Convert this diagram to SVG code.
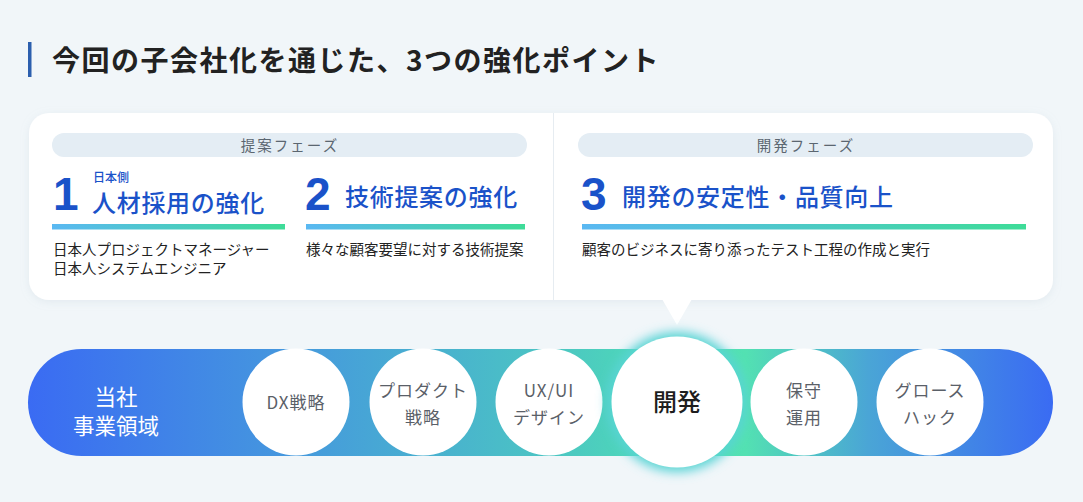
<svg xmlns="http://www.w3.org/2000/svg" width="1083" height="502" viewBox="0 0 1083 502">
<defs>
<linearGradient id="bar" x1="0" y1="0" x2="1" y2="0"><stop offset="0" stop-color="#5ab8f2"/><stop offset="1" stop-color="#3edc98"/></linearGradient>
<linearGradient id="band" gradientUnits="userSpaceOnUse" x1="28" y1="0" x2="1053" y2="0">
<stop offset="0" stop-color="#3a6bf3"/><stop offset="0.25" stop-color="#4597de"/><stop offset="0.5" stop-color="#4bc3c4"/><stop offset="0.6" stop-color="#4ed8b8"/><stop offset="0.7" stop-color="#53e1b2"/><stop offset="0.82" stop-color="#4aa5d6"/><stop offset="1" stop-color="#3a6bf3"/>
</linearGradient>
<radialGradient id="glowg"><stop offset="0.75" stop-color="#4fe0b8"/><stop offset="1" stop-color="#5ccfe0"/></radialGradient>
<filter id="blur" x="-30%" y="-30%" width="160%" height="160%"><feGaussianBlur stdDeviation="5.5"/></filter>
<filter id="shadow" x="-5%" y="-10%" width="110%" height="130%"><feDropShadow dx="0" dy="2" stdDeviation="4" flood-color="#9fb3c4" flood-opacity="0.18"/></filter>
</defs>
<style>
.jp{font-family:"Noto Sans CJK JP","Noto Sans CJK SC",sans-serif}
.num{font-family:"Liberation Sans",Arial,sans-serif;font-weight:700;font-size:46px;fill:#1a52c9}
.head{font-size:24px;font-weight:500;fill:#1a52c9;letter-spacing:0.7px}
.desc{font-size:14.5px;fill:#222}
.phase{font-size:14.5px;fill:#5b6670;letter-spacing:2px;text-anchor:middle}
.pill{fill:#e4edf4}
.c{fill:#fff}
.ct{font-size:17px;fill:#5a6068;text-anchor:middle;letter-spacing:1px}
</style>
<rect width="1083" height="502" fill="#f1f6f9"/>
<g id="title">
<rect x="28" y="42" width="3.5" height="35" fill="#2c5fae"/>
<text class="jp" x="52" y="71" font-size="28" font-weight="700" fill="#222" letter-spacing="1.5">今回の子会社化を通じた、3つの強化ポイント</text>
</g>
<g id="card">
<rect x="29" y="113" width="1024" height="187" rx="20" fill="#fff" filter="url(#shadow)"/>
<path d="M662 299 L692 299 L677 325 Z" fill="#fff"/>
<line x1="553.5" y1="113" x2="553.5" y2="300" stroke="#e6ecf1" stroke-width="1"/>
</g>
<g id="phase1">
<rect class="pill" x="52" y="133" width="475" height="24" rx="12"/>
<text class="jp phase" x="290" y="151">提案フェーズ</text>
</g>
<g id="phase2">
<rect class="pill" x="578" y="133" width="455" height="24" rx="12"/>
<text class="jp phase" x="806" y="151">開発フェーズ</text>
</g>
<g id="point1">
<text class="num" x="53" y="210">1</text>
<text class="jp" x="93" y="182" font-size="12" font-weight="500" fill="#1a52c9">日本側</text>
<text class="jp head" x="92" y="212">人材採用の強化</text>
<rect x="52" y="224" width="233" height="5.5" fill="url(#bar)"/>
<text class="jp desc" x="53" y="255">日本人プロジェクトマネージャー</text>
<text class="jp desc" x="53" y="274">日本人システムエンジニア</text>
</g>
<g id="point2">
<text class="num" x="305" y="210">2</text>
<text class="jp head" x="345" y="206">技術提案の強化</text>
<rect x="306" y="224" width="219" height="5.5" fill="url(#bar)"/>
<text class="jp desc" x="306" y="255">様々な顧客要望に対する技術提案</text>
</g>
<g id="point3">
<text class="num" x="581" y="210">3</text>
<text class="jp head" x="622" y="206">開発の安定性・品質向上</text>
<rect x="582" y="224" width="444" height="5.5" fill="url(#bar)"/>
<text class="jp desc" x="582" y="255">顧客のビジネスに寄り添ったテスト工程の作成と実行</text>
</g>
<g id="band">
<rect x="28" y="349" width="1025" height="107" rx="53.5" fill="url(#band)"/>
<text class="jp" x="116" y="405" font-size="21.5" fill="#fff" text-anchor="middle">当社</text>
<text class="jp" x="116" y="434" font-size="21.5" fill="#fff" text-anchor="middle">事業領域</text>
</g>
<g id="dx">
<circle class="c" cx="296" cy="402" r="53.5"/>
<text class="jp ct" x="296" y="409">DX戦略</text>
</g>
<g id="product">
<circle class="c" cx="423" cy="402" r="53.5"/>
<text class="jp ct" x="423" y="397">プロダクト</text>
<text class="jp ct" x="423" y="424">戦略</text>
</g>
<g id="uxui">
<circle class="c" cx="549" cy="402" r="53.5"/>
<text class="jp ct" x="549" y="397">UX/UI</text>
<text class="jp ct" x="549" y="424">デザイン</text>
</g>
<g id="dev">
<circle cx="677" cy="402" r="70" fill="url(#glowg)" filter="url(#blur)"/>
<circle class="c" cx="677" cy="402" r="65.5"/>
<text class="jp" x="677" y="411" font-size="24" font-weight="500" fill="#1e1e1e" text-anchor="middle">開発</text>
</g>
<g id="ops">
<circle class="c" cx="804" cy="402" r="53.5"/>
<text class="jp ct" x="804" y="397">保守</text>
<text class="jp ct" x="804" y="424">運用</text>
</g>
<g id="growth">
<circle class="c" cx="930" cy="402" r="53.5"/>
<text class="jp ct" x="930" y="397">グロース</text>
<text class="jp ct" x="930" y="424">ハック</text>
</g>
<g id="connectors"></g>
</svg>
